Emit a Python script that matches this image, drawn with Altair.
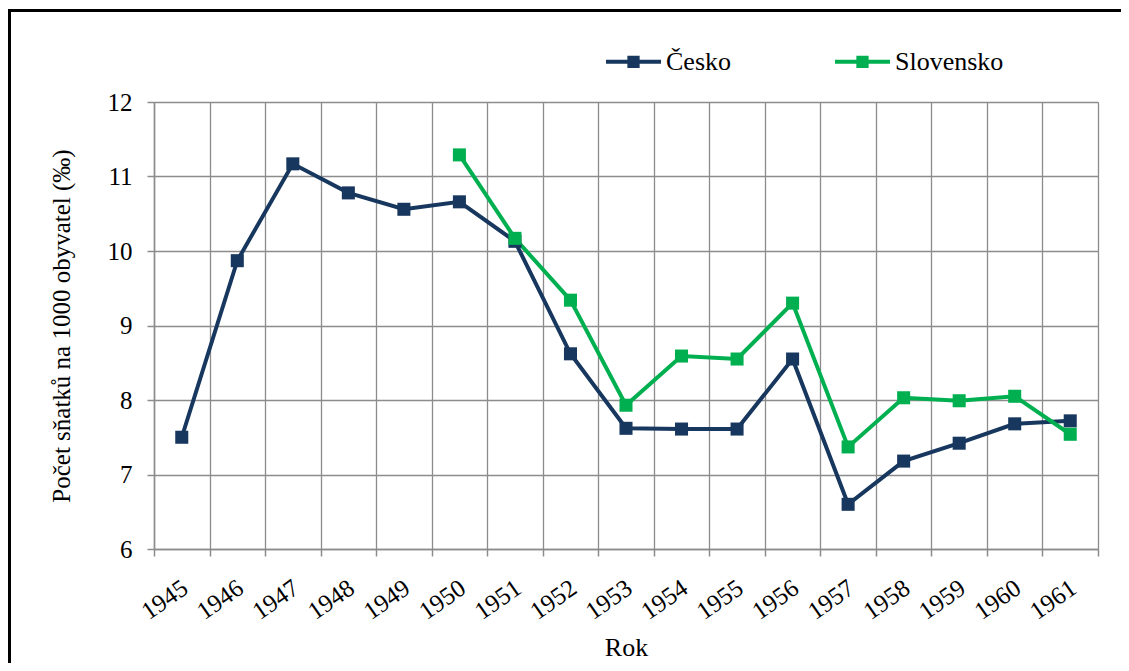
import altair as alt
import pandas as pd

years = ["1945", "1946", "1947", "1948", "1949", "1950", "1951", "1952", "1953",
         "1954", "1955", "1956", "1957", "1958", "1959", "1960", "1961"]
cesko = [7.50, 9.87, 11.17, 10.78, 10.56, 10.66, 10.13, 8.62, 7.62, 7.61, 7.61,
         8.55, 6.60, 7.18, 7.42, 7.68, 7.72]
slovensko_years = ["1950", "1951", "1952", "1953", "1954", "1955", "1956", "1957",
                   "1958", "1959", "1960", "1961"]
slovensko = [11.29, 10.17, 9.34, 7.93, 8.59, 8.55, 9.30, 7.37, 8.03, 7.99, 8.05, 7.54]
series = ["Česko", "Slovensko"]
colors = ["#17375E", "#00B050"]
y_ticks = [6, 7, 8, 9, 10, 11, 12]

rows = [{"rok": r, "stat": series[0], "hodnota": v} for r, v in zip(years, cesko)]
rows += [{"rok": r, "stat": series[1], "hodnota": v} for r, v in zip(slovensko_years, slovensko)]
df = pd.DataFrame(rows)

FONT = "Liberation Serif"
GRID = "#8c8c8c"

legend = alt.Legend(
    title=None, orient="none", direction="horizontal",
    legendX=450, legendY=-70, padding=0,
    symbolType="M-1,0H1M-0.15,-0.15H0.15V0.15H-0.15Z",
    symbolSize=3025, symbolStrokeWidth=4, symbolOpacity=1,
    labelFont=FONT, labelFontSize=26, labelColor="black",
    labelOffset=3, columnPadding=96,
)
color_scale = alt.Scale(domain=series, range=colors)

base = alt.Chart(df).encode(
    x=alt.X("rok:O", sort=years,
            scale=alt.Scale(type="band", paddingInner=0, paddingOuter=0),
            axis=alt.Axis(title="Rok", tickBand="extent", labelAngle=-35,
                          labelAlign="right", labelBaseline="top",
                          labelOffset=-4, labelPadding=19,
                          titleFontSize=26, titlePadding=10)),
    y=alt.Y("hodnota:Q", scale=alt.Scale(domain=[6, 12], nice=False, zero=False),
            axis=alt.Axis(title="Počet sňatků na 1000 obyvatel (‰)", values=y_ticks,
                          labelPadding=15, titlePadding=33)),
)

lines = base.mark_line(strokeWidth=4).encode(
    stroke=alt.Stroke("stat:N", scale=color_scale, legend=legend))
points = base.mark_point(shape="square", filled=True, size=170, opacity=1).encode(
    fill=alt.Fill("stat:N", scale=color_scale, legend=legend))

frame_df = pd.DataFrame({"k": [0]})
left_border = alt.Chart(frame_df).mark_rule(color="black", strokeWidth=3).encode(
    x=alt.value(-144.5), y=alt.value(-92), y2=alt.value(620))
top_border = alt.Chart(frame_df).mark_rule(color="black", strokeWidth=3).encode(
    y=alt.value(-91.5), x=alt.value(-146), x2=alt.value(980))

chart = alt.layer(lines, points, left_border, top_border).properties(
    width=944, height=447,
    padding={"left": 146, "top": 94, "right": 23, "bottom": 114},
    autosize=alt.AutoSizeParams(type="none"),
).configure_view(stroke=None).configure_axis(
    labelFont=FONT, labelFontSize=25, labelColor="black",
    titleFont=FONT, titleFontSize=25, titleFontWeight="normal", titleColor="black",
    domainColor=GRID, domainWidth=1.5, gridColor=GRID, gridWidth=1.3, gridOpacity=1,
    tickColor=GRID, tickWidth=1.5, tickSize=7, grid=True,
)

chart.save("out.html", embed_options={"renderer": "svg", "actions": False})
